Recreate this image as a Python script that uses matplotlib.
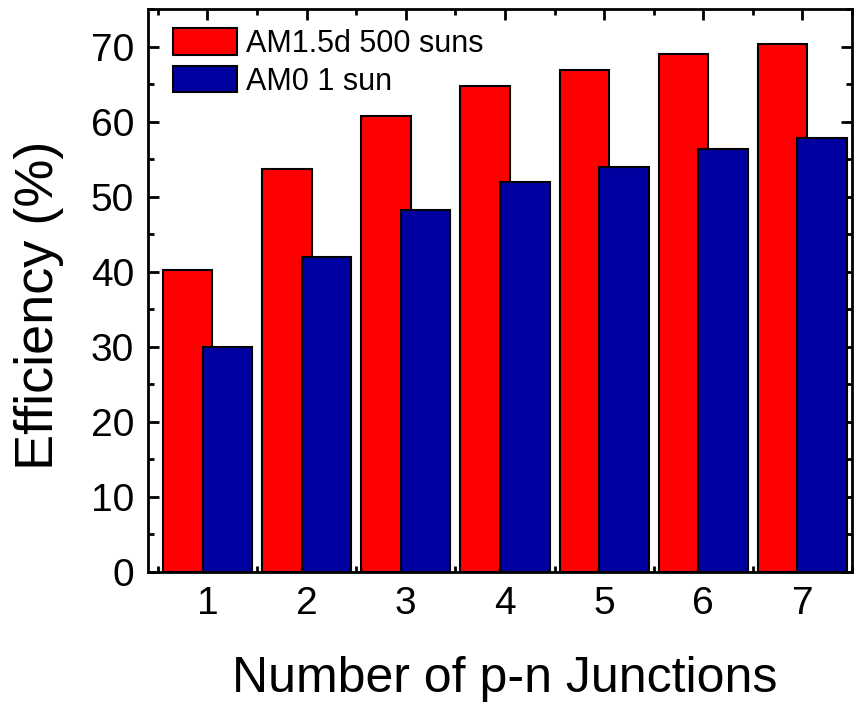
import matplotlib.pyplot as plt
import numpy as np
from matplotlib.ticker import MultipleLocator, FixedLocator

plt.rcParams['font.family'] = ['Liberation Sans', 'DejaVu Sans']

junctions = [1, 2, 3, 4, 5, 6, 7]
am15d_500suns = [40.2, 53.7, 60.7, 64.8, 66.9, 69.0, 70.4]
am0_1sun = [30.0, 41.9, 48.2, 51.9, 54.0, 56.3, 57.8]
labels = ['AM1.5d 500 suns', 'AM0 1 sun']

fig = plt.figure(figsize=(8.57, 7.09), dpi=100)
ax = fig.add_axes([0.1727, 0.1932, 0.8215, 0.7941])

x = np.array(junctions)
ax.bar(x - 0.2, am15d_500suns, width=0.5, color='#FF0000', edgecolor='black',
       linewidth=1.5, label=labels[0], zorder=2)
ax.bar(x + 0.2, am0_1sun, width=0.5, color='#0000A0', edgecolor='black',
       linewidth=1.5, label=labels[1], zorder=3)

ax.set_xlim(0.4, 7.5)
ax.set_ylim(0, 75)
ax.set_xticks(junctions)
ax.xaxis.set_minor_locator(FixedLocator(np.arange(0.5, 8.0, 1.0)))
ax.yaxis.set_major_locator(MultipleLocator(10))
ax.yaxis.set_minor_locator(MultipleLocator(5))

ax.tick_params(which='both', direction='in', top=True, right=True, width=2)
ax.tick_params(which='major', length=8, labelsize=28)
ax.tick_params(axis='y', which='major', pad=10)
ax.tick_params(axis='x', which='major', pad=10)
ax.tick_params(which='minor', length=4)
for s in ax.spines.values():
    s.set_linewidth(2)

ax.set_xlabel('Number of p-n Junctions', fontsize=36)
ax.set_ylabel('Efficiency (%)', fontsize=39)
ax.xaxis.set_label_coords(0.507, -0.15)
ax.yaxis.set_label_coords(-0.12, 0.474)

ax.legend(loc='upper left', bbox_to_anchor=(0.0355, 0.966), frameon=False,
          fontsize=22, borderpad=0, borderaxespad=0, handlelength=2.1,
          handleheight=0.95, handletextpad=0.3, labelspacing=0.23)

fig.savefig('out.png', dpi=100)
